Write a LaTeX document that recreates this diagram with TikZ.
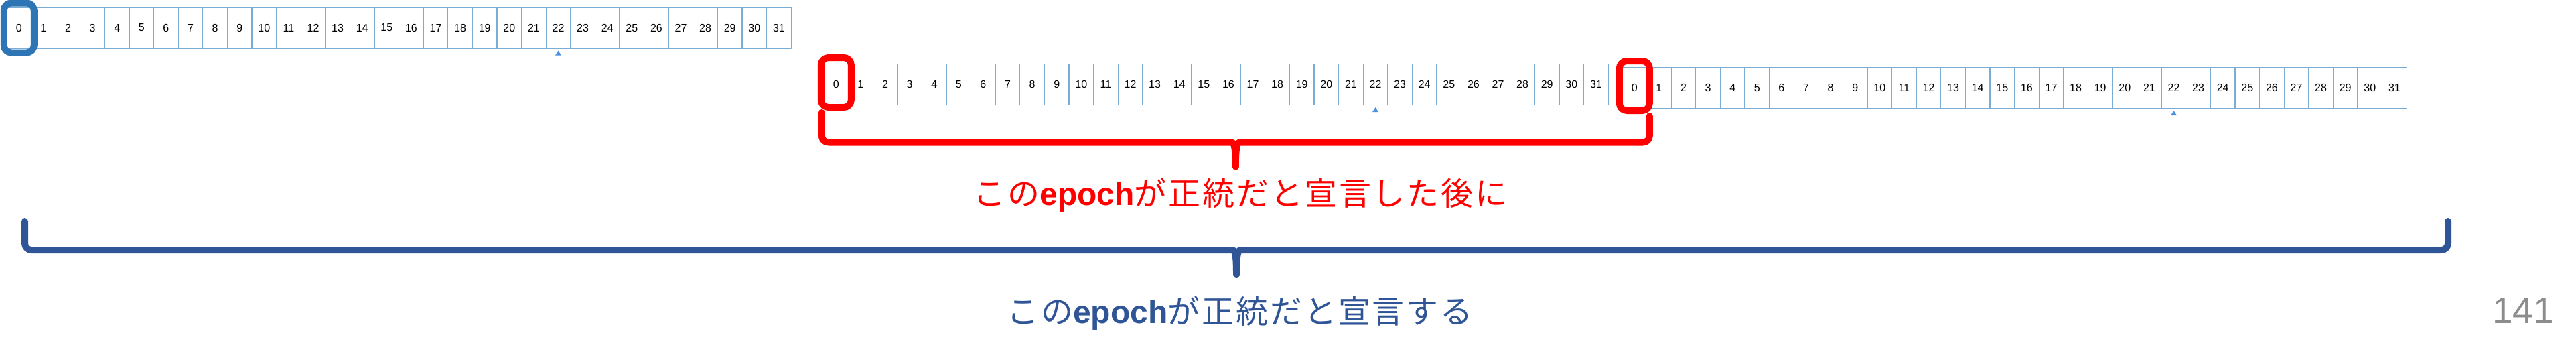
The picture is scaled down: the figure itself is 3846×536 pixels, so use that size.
\documentclass[tikz,border=0pt]{standalone}
\usepackage{fontspec}
\setmainfont{Liberation Sans}
\newfontfamily\jpfont{Noto Sans CJK JP}[LetterSpace=6]
\usetikzlibrary{calc}
\definecolor{cellline}{RGB}{122,172,212}
\definecolor{hlblue}{RGB}{46,117,182}
\definecolor{darkblue}{RGB}{47,85,151}
\definecolor{tipblue}{RGB}{74,144,226}
\definecolor{pagegray}{RGB}{140,140,140}

\begin{document}
\begin{tikzpicture}[x=1pt, y=-1pt, line join=round, line cap=round,
	cell/.style={draw=cellline, line width=1.2pt, minimum width=36.6pt, minimum height=61pt, inner sep=0pt, font=\fontsize{16}{17}\selectfont},
	hlframe/.style={draw=#1, line width=10pt, rounded corners=11pt, minimum width=45pt, minimum height=74pt, inner sep=0pt, outer sep=0pt},
	epochbrace/.style={draw=#1, line width=10pt}]
	\useasboundingbox (0,0) rectangle (3846,536);
	
	% Slots of the three epochs
	\foreach \i in {0,...,31} {
		\node[cell] (a\i) at ({28.3+36.6*\i}, 41.5) {\i};
		\node[cell] (b\i) at ({1248.3+36.6*\i}, 126) {\i};
		\node[cell] (c\i) at ({2440.3+36.6*\i}, 131) {\i};
	}
	
	% Small marks under slot 22
	\foreach \rw in {a,b,c}
		\fill[tipblue] (\rw22.south) ++(0,3) -- ++(-4.5,7) -- ++(9,0) -- cycle;
	
	% Frames round slot 0
	\node[hlframe=hlblue] (fa) at (a0) {};
	\node[hlframe=red] (fb) at ($(b0)+(0,-3)$) {};
	\node[hlframe=red] (fc) at ($(c0)+(0,-3)$) {};
	
	% Red bracket
	\coordinate (rl) at ($(fb.south west)+(1,8)$);
	\coordinate (rr) at ($(fc.south east)+(0,8)$);
	\coordinate (rm) at ($(rl)!0.5!(rr)+(0,42)$);
	\draw[epochbrace=red] (rl) [rounded corners=10pt] |- ($(rm)+(-16,0)$) [sharp corners] .. controls ($(rm)+(-3,0)$) and ($(rm)+(0,4)$) .. ($(rm)+(0,36)$);
	\draw[epochbrace=red] (rr) [rounded corners=10pt] |- ($(rm)+(16,0)$) [sharp corners] .. controls ($(rm)+(3,0)$) and ($(rm)+(0,4)$) .. ($(rm)+(0,36)$);
	
	% Blue bracket
	\coordinate (bl) at (37,330);
	\coordinate (br) at (3655,330);
	\coordinate (bm) at ($(bl)!0.5!(br)+(0,43)$);
	\draw[epochbrace=darkblue] (bl) [rounded corners=10pt] |- ($(bm)+(-16,0)$) [sharp corners] .. controls ($(bm)+(-3,0)$) and ($(bm)+(0,4)$) .. ($(bm)+(0,36)$);
	\draw[epochbrace=darkblue] (br) [rounded corners=10pt] |- ($(bm)+(16,0)$) [sharp corners] .. controls ($(bm)+(3,0)$) and ($(bm)+(0,4)$) .. ($(bm)+(0,36)$);
	
	% Texts
	\node[anchor=base, text=red, font=\fontsize{48}{50}\selectfont] (txtred) at (1852,306) {{\jpfont この}{\bfseries epoch}{\jpfont が正統だと宣言した後に}};
	\node[anchor=base, text=darkblue, font=\fontsize{48}{50}\selectfont] (txtblue) at (1851,482) {{\jpfont この}{\bfseries epoch}{\jpfont が正統だと宣言する}};
	\node[anchor=base, text=pagegray, font=\fontsize{55}{57}\selectfont] (pagenum) at (3767,482) {141};
\end{tikzpicture}
\end{document}
